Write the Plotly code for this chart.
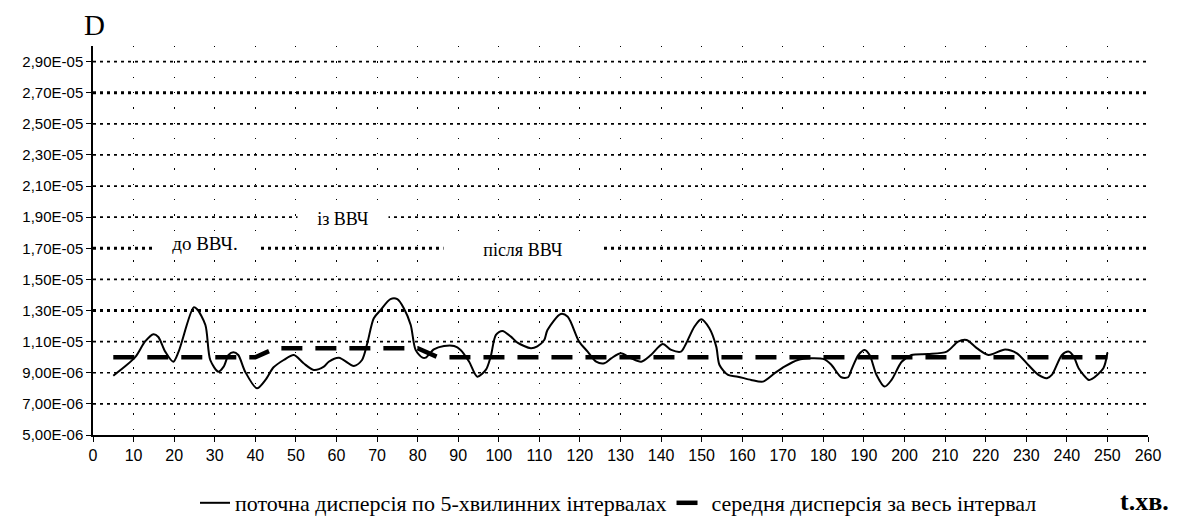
import plotly.graph_objects as go

# ---- data ----
t_cur = [5, 10.4, 12.8, 14.9, 16.1, 17.8, 19.8, 21.1, 24.8, 25.6, 27.7, 28.9, 30.9, 32.2, 33.4,
         34.6, 35.8, 37.5, 40.4, 42.5, 44.5, 47.0, 49.5, 51.9, 54.4, 56.9, 58.1, 60.6, 64.3,
         66.3, 67.6, 69.2, 70.9, 73.3, 75, 76.6, 78.3, 79.5, 81.2, 82, 84.0, 86.5, 89, 90.6,
         92.7, 94.7, 96.8, 98, 99.3, 100.9, 103, 104.6, 107.9, 109.5, 111.2, 112, 115.3, 117,
         119.8, 121.9, 124, 126, 127.7, 130.1, 132.6, 135.1, 137.5, 140.4, 142.5, 144.9, 146.2,
         148.2, 149.9, 151.9, 153.6, 154.4, 156.5, 158.9, 162.2, 165.1, 168, 170.4, 173.7, 177,
         180.3, 182, 184.4, 186.1, 186.9, 188.6, 190.2, 191.4, 193.1, 195.1, 196.8, 199.3,
         201.7, 205.8, 210.4, 213.2, 215.3, 217.8, 220.7, 224.8, 227.7, 230.5, 233, 235.1,
         236.3, 238.8, 240.4, 241.7, 242.9, 245.4, 246.2, 249, 250]
d_cur_e6 = [8.81, 10.0, 11.0, 11.48, 11.3, 10.36, 9.71, 10.36, 13.2, 13.1, 12.07, 9.82, 9.07, 9.39, 10.14,
            10.32, 10.14, 9.07, 8.0, 8.54, 9.35, 9.82, 10.14, 9.61, 9.18, 9.39, 9.71, 9.97, 9.44,
            9.82, 10.9, 12.5, 13.04, 13.73, 13.73, 13.15, 12.07, 10.47, 9.97, 9.97, 10.5, 10.72, 10.72, 10.47,
            9.71, 8.75, 9.18, 10.03, 11.43, 11.69, 11.32, 10.94, 10.58, 10.7, 11.1, 11.75, 12.78, 12.6,
            11.0, 10.36, 9.71, 9.61, 9.93, 10.25, 9.93, 9.71, 10.14, 10.85, 10.47, 10.36, 10.9,
            11.96, 12.44, 11.86, 10.68, 9.5, 8.86, 8.75, 8.54, 8.43, 8.97, 9.39, 9.82, 9.93,
            9.86, 9.5, 8.71, 8.71, 9.18, 10.14, 10.47, 10.14, 8.86, 8.11, 8.54, 9.71,
            10.14, 10.2, 10.36, 11.0, 11.1, 10.58, 10.14, 10.5, 10.25, 9.5, 8.86, 8.65,
            8.86, 10.14, 10.36, 10.04, 9.29, 8.54, 8.6, 9.29, 10.3]
d_cur = [v * 1e-6 for v in d_cur_e6]

t_mean = [5, 40, 45, 80, 85, 250]
d_mean = [1.0e-5, 1.0e-5, 1.058e-5, 1.058e-5, 1.0e-5, 1.0e-5]

y_tickvals = [5e-6, 7e-6, 9e-6, 1.1e-5, 1.3e-5, 1.5e-5, 1.7e-5, 1.9e-5, 2.1e-5, 2.3e-5, 2.5e-5, 2.7e-5, 2.9e-5]
y_ticktext = ["5,00E-06", "7,00E-06", "9,00E-06", "1,10E-05", "1,30E-05", "1,50E-05", "1,70E-05",
              "1,90E-05", "2,10E-05", "2,30E-05", "2,50E-05", "2,70E-05", "2,90E-05"]
thick_grid = [1.3e-5, 1.7e-5, 2.7e-5]

name_cur = "поточна дисперсія по 5-хвилинних інтервалах"
name_mean = "середня дисперсія за весь інтервал"

SERIF = "Liberation Serif, DejaVu Serif, serif"
SANS = "Liberation Sans, Arial, sans-serif"

fig = go.Figure()
fig.add_trace(go.Scatter(x=t_cur, y=d_cur, mode="lines", name=name_cur,
                         line=dict(color="black", width=2, shape="spline", smoothing=0.8)))
fig.add_trace(go.Scatter(x=t_mean, y=d_mean, mode="lines", name=name_mean,
                         line=dict(color="black", width=4.5, dash="21px,13px")))

shapes = []
for v in y_tickvals[1:]:
    thick = v in thick_grid
    shapes.append(dict(type="line", xref="paper", x0=0, x1=1, yref="y", y0=v, y1=v,
                       layer="below",
                       line=dict(color="black", width=3 if thick else 1.7, dash="3px,4px")))

annotations = [
    dict(text="D", xref="paper", yref="paper", x=0.001, y=1.055,
         xanchor="center", yanchor="middle",
         showarrow=False, font=dict(family=SERIF, size=29, color="black")),
    dict(text="<b>t.хв.</b>", xref="paper", yref="paper", x=0.997, y=-0.172,
         xanchor="center", yanchor="middle", showarrow=False,
         font=dict(family=SERIF, size=26, color="black")),
    dict(text="до ВВЧ.", x=27.5, y=1.735e-5, showarrow=False, bgcolor="white",
         xanchor="center", yanchor="middle",
         width=104, height=22, borderpad=0,
         font=dict(family=SERIF, size=19, color="black")),
    dict(text="із ВВЧ", x=61.5, y=1.885e-5, showarrow=False, bgcolor="white",
         xanchor="center", yanchor="middle",
         width=90, height=28, borderpad=0,
         font=dict(family=SERIF, size=18, color="black")),
    dict(text="після ВВЧ", x=106, y=1.69e-5, showarrow=False, bgcolor="white",
         xanchor="center", yanchor="middle",
         width=158, height=26, borderpad=0,
         font=dict(family=SERIF, size=18, color="black")),
]

fig.update_layout(
    width=1178, height=519, autosize=False,
    margin=dict(l=93, r=30, t=46, b=84),
    paper_bgcolor="white", plot_bgcolor="white",
    shapes=shapes, annotations=annotations,
    showlegend=True,
    legend=dict(orientation="h", xref="container", yref="container",
                x=195 / 1178, y=(519 - 503) / 519, xanchor="left", yanchor="middle",
                font=dict(family=SERIF, size=22, color="black"),
                bgcolor="rgba(0,0,0,0)", itemwidth=30, tracegroupgap=0),
    xaxis=dict(range=[0, 260], dtick=10, tick0=0, showline=True, linecolor="black", linewidth=1.5,
               ticks="outside", ticklen=5, tickcolor="black", tickwidth=1,
               showgrid=True, gridcolor="black", gridwidth=1.3, griddash="1.3px,14px",
               zeroline=False, tickfont=dict(family=SANS, size=16, color="black")),
    yaxis=dict(range=[5e-6, 3e-5], tickvals=y_tickvals, ticktext=y_ticktext,
               showline=True, linecolor="black", linewidth=1.5,
               ticks="outside", ticklen=5, tickcolor="black", tickwidth=1,
               showgrid=False, zeroline=False,
               tickfont=dict(family=SANS, size=15, color="black")),
)

fig.write_html("out.html")
